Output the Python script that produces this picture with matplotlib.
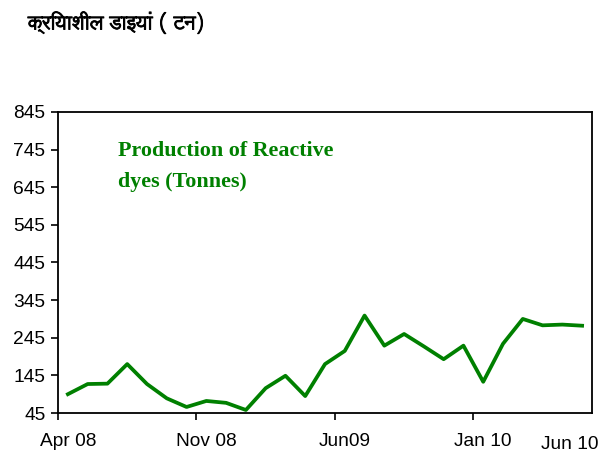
import matplotlib
matplotlib.use("Agg")
import matplotlib.pyplot as plt
import matplotlib.patheffects as pe
from matplotlib.ticker import FixedLocator

# Monthly production of reactive dyes, Apr 08 - Jun 10 (tonnes)
months = ["Apr 08", "May 08", "Jun 08", "Jul 08", "Aug 08", "Sep 08", "Oct 08",
          "Nov 08", "Dec 08", "Jan 09", "Feb 09", "Mar 09", "Apr 09", "May 09",
          "Jun09", "Jul 09", "Aug 09", "Sep 09", "Oct 09", "Nov 09", "Dec 09",
          "Jan 10", "Feb 10", "Mar 10", "Apr 10", "May 10", "Jun 10"]
production = [95, 122, 123, 175, 122, 84, 61, 77, 72, 53, 111, 144, 90, 175,
              210, 304, 224, 255, 222, 188, 224, 128, 229, 295, 278, 280, 277]
label_idx = [0, 7, 14, 21]
yticks = [45, 145, 245, 345, 445, 545, 645, 745, 845]

title = "क्रियाशील डाइयां ( टन)"
note = "Production of Reactive\ndyes (Tonnes)"

plt.rcParams["font.family"] = ["Liberation Sans", "DejaVu Sans"]

fig = plt.figure(figsize=(6.04, 4.54), dpi=100)
ax = fig.add_axes([58 / 604, 1 - 413 / 454, (592 - 58) / 604, (413 - 112) / 454])

x = list(range(len(months)))
ax.plot(x, production, color="#008000", linewidth=2.7)

ax.set_xlim(-0.5, len(months) - 0.5)
ax.set_ylim(45, 845)
ax.set_yticks(yticks)
ax.set_yticklabels([str(v) for v in yticks], fontsize=13.8)

# labels sit on the category centres, tick marks on the boundaries
ax.set_xticks([x[i] for i in label_idx])
ax.set_xticklabels([months[i] for i in label_idx], fontsize=13.8)
ax.xaxis.set_minor_locator(FixedLocator([i - 0.5 for i in label_idx]))
ax.tick_params(axis="x", which="major", length=0, pad=14.5)
ax.tick_params(axis="x", which="minor", length=5, width=1.2, direction="out")
ax.tick_params(axis="y", length=5, width=1.2, direction="out", pad=4)

for s in ax.spines.values():
    s.set_linewidth(1.3)

# last month label drawn lower, as in the original
ax.text(len(months) - 1.65, -0.12, months[-1], transform=ax.get_xaxis_transform(),
        ha="center", va="baseline", fontsize=13.8)

ax.text(118 / 604, 1 - 141 / 454, note, transform=fig.transFigure, fontsize=15.8,
        fontweight="bold", family=["Liberation Serif", "DejaVu Serif"],
        color="#008000", va="top", ha="left", linespacing=1.72)

# the Devanagari font has no bold face, so thicken it with a stroke
fig.text(28 / 604, 1 - 23 / 454, title, fontsize=14, fontweight="bold",
         family=["Lohit Devanagari", "FreeSans", "Noto Sans Devanagari",
                 "Noto Sans", "DejaVu Sans"], va="center", ha="left",
         path_effects=[pe.withStroke(linewidth=0.7, foreground="black")])

fig.savefig("out.png", dpi=100)
